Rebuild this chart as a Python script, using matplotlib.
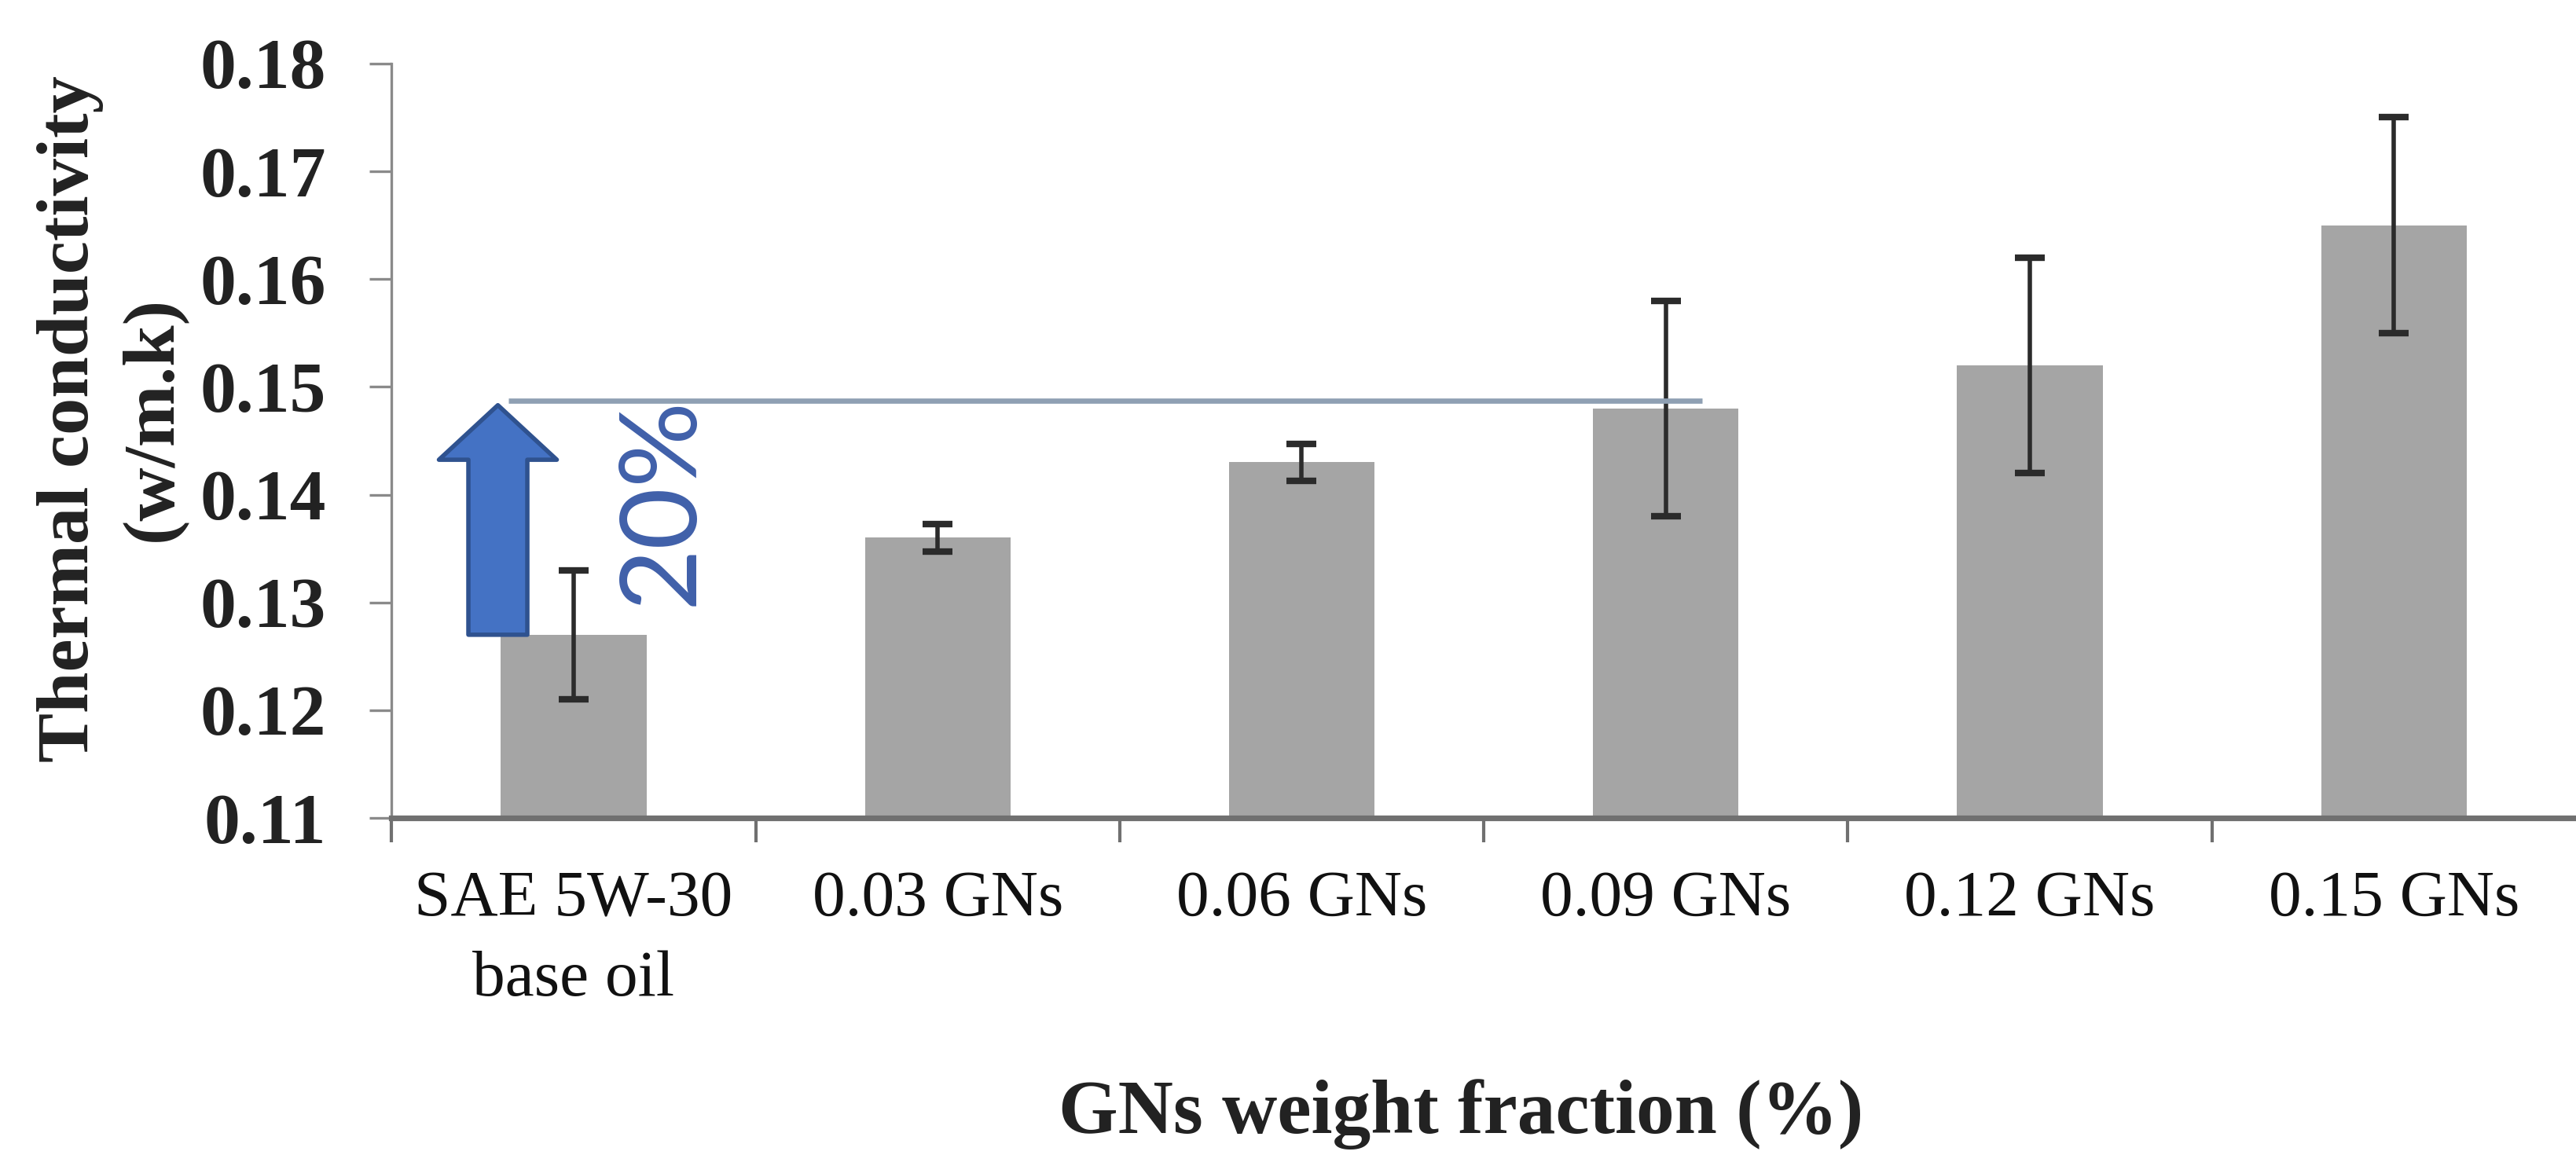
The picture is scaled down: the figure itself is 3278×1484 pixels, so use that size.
import matplotlib
matplotlib.use("Agg")
import matplotlib.pyplot as plt
from matplotlib.patches import FancyArrowPatch
from matplotlib.ticker import FixedLocator, FormatStrFormatter

categories = ["SAE 5W-30\nbase oil", "0.03 GNs", "0.06 GNs",
              "0.09 GNs", "0.12 GNs", "0.15 GNs"]
conductivity = [0.127, 0.136, 0.143, 0.148, 0.152, 0.165]
errors = [0.006, 0.0013, 0.0017, 0.010, 0.010, 0.010]
ref_level = 0.1487          # level reached by the 20 % increase line
increase_label = "20%"

serif = "Liberation Serif"

fig = plt.figure(figsize=(16.39, 7.42), dpi=200)
ax = fig.add_axes([0.152, 0.2985, 0.848, 0.647])

x = list(range(len(categories)))
ax.bar(x, conductivity, width=0.4, color="#a5a5a5", zorder=2)
ax.errorbar(x, conductivity, yerr=errors, fmt="none", ecolor="#2b2b2b",
            elinewidth=2.0, capsize=7, capthick=3.0, zorder=3)

ax.set_xlim(-0.5, len(categories) - 0.5)
ax.set_ylim(0.11, 0.18)

# axes styling (Excel-like)
for side in ("top", "right"):
    ax.spines[side].set_visible(False)
ax.spines["left"].set_color("#8a8a8a")
ax.spines["left"].set_linewidth(1.2)
ax.spines["bottom"].set_color("#707070")
ax.spines["bottom"].set_linewidth(2.6)

ax.set_yticks([0.11 + 0.01 * i for i in range(8)])
ax.yaxis.set_major_formatter(FormatStrFormatter("%.2f"))
ax.tick_params(axis="y", direction="out", length=10, width=1.2,
               color="#8a8a8a", pad=20, labelsize=33, labelcolor="#222222")
for lbl in ax.get_yticklabels():
    lbl.set_fontfamily(serif)
    lbl.set_fontweight("bold")

ax.set_xticks(x)
ax.set_xticklabels(categories, fontfamily=serif, fontsize=30, color="#111111")
for lbl in ax.get_xticklabels():
    lbl.set_linespacing(1.45)
ax.xaxis.set_minor_locator(FixedLocator([i + 0.5 for i in x[:-1]] + [-0.5]))
ax.tick_params(axis="x", which="major", direction="in", length=8, width=1.5,
               color="#505050", pad=24)
ax.tick_params(axis="x", which="minor", direction="out", length=11, width=1.5,
               color="#707070")

# reference line and increase arrow
ax.plot([-0.18, 3.10], [ref_level, ref_level], color="#8fa0b3", lw=2.4,
        solid_capstyle="butt", zorder=4)
arrow = FancyArrowPatch((-0.208, conductivity[0]), (-0.208, ref_level - 0.0004),
                        arrowstyle="simple,head_length=25,head_width=54,tail_width=27",
                        mutation_scale=1, shrinkA=0, shrinkB=0,
                        fc="#4472c4", ec="#2f528f", lw=2, zorder=5)
ax.add_patch(arrow)
ax.text(0.243, 0.1394, increase_label, rotation=90, ha="center", va="center",
        fontfamily="Lato", fontsize=49, color="#4060aa", zorder=6)

fig.text(0.0433, 0.641, "Thermal conductivity\n(w/m.k)", rotation=90,
         ha="center", va="center", multialignment="center", linespacing=1.3,
         fontfamily=serif, fontweight="bold", fontsize=34, color="#222222")
fig.text(0.567, 0.0445, "GNs weight fraction (%)", ha="center", va="center",
         fontfamily=serif, fontweight="bold", fontsize=35, color="#222222")

fig.savefig("out.png", dpi=200, facecolor="white")
